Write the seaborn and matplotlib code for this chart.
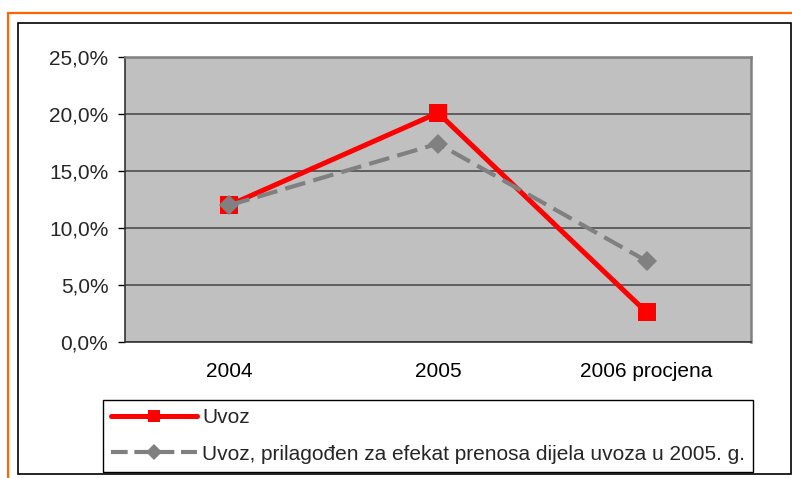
import matplotlib
matplotlib.use("Agg")
import matplotlib.pyplot as plt
import seaborn as sns
import pandas as pd
from matplotlib.patches import Rectangle
from matplotlib.lines import Line2D
from matplotlib.ticker import FixedLocator, FuncFormatter

categories = ["2004", "2005", "2006 procjena"]
uvoz = [12.0, 20.1, 2.6]
uvoz_adj = [12.0, 17.4, 7.1]
series_names = ["Uvoz", "Uvoz, prilagođen za efekat prenosa dijela uvoza u 2005. g."]
y_ticks = [0, 5, 10, 15, 20, 25]

sns.set_theme(style="white")
plt.rcParams['font.family'] = ['Liberation Sans', 'DejaVu Sans']

df = pd.DataFrame({
    "cat": categories * 2,
    "val": uvoz + uvoz_adj,
    "series": [series_names[0]] * 3 + [series_names[1]] * 3,
})

FS = 15
DASH = (0, (5, 2))

fig = plt.figure(figsize=(7.92, 4.78), dpi=100)
W, H = 792, 478
# outer orange frame (partially visible)
fig.add_artist(Line2D([8 / W, 8 / W], [0, 1 - 13 / H], color="#FF6600", lw=1.6, transform=fig.transFigure))
fig.add_artist(Line2D([8 / W, 1], [1 - 13 / H, 1 - 13 / H], color="#FF6600", lw=1.6, transform=fig.transFigure))
# chart area black frame
fig.add_artist(Rectangle((18 / W, 1 - 474 / H), (791 - 18) / W, (474 - 23) / H, fill=False,
                         edgecolor="black", lw=1.2, transform=fig.transFigure))

ax = fig.add_axes([125 / W, 1 - 342 / H, (751 - 125) / W, (342 - 57) / H])
ax.set_facecolor("#C0C0C0")

sub1 = df[df.series == series_names[0]]
sub2 = df[df.series == series_names[1]]
sns.lineplot(data=sub2, x="cat", y="val", ax=ax, color="#808080", lw=3, linestyle=DASH,
             marker="D", markersize=10, markeredgewidth=0, sort=False, zorder=3)
sns.lineplot(data=sub1, x="cat", y="val", ax=ax, color="#FF0000", lw=3.6,
             marker="s", markersize=12.5, markeredgewidth=0, sort=False, zorder=4)
ax.lines[0].set_zorder(5)

ax.set_xlim(-0.5, 2.5)
ax.set_ylim(0, 25)
ax.yaxis.set_major_locator(FixedLocator(y_ticks))
ax.yaxis.set_major_formatter(FuncFormatter(lambda v, p: f"{v:.1f}%".replace(".", ",")))
ax.grid(axis="y", color="#4D4D4D", lw=1.2, zorder=1)
ax.set_axisbelow(True)
ax.set_xlabel("")
ax.set_ylabel("")

ax.set_xticks([0, 1, 2])
ax.set_xticklabels(categories)
ax.set_xticks([-0.5, 0.5, 1.5, 2.5], minor=True)
ax.tick_params(axis="x", which="major", length=0, pad=14.5, labelsize=FS, colors="black")
ax.tick_params(axis="x", which="minor", length=5, width=1, color="black", direction="out")
ax.tick_params(axis="y", length=5, width=1, color="black", direction="out", pad=7, labelsize=FS, left=True)

for side in ["top", "right"]:
    ax.spines[side].set_color("#808080")
    ax.spines[side].set_linewidth(1.8)
for side in ["left", "bottom"]:
    ax.spines[side].set_color("#333333")
    ax.spines[side].set_linewidth(1.2)

if ax.legend_:
    ax.legend_.remove()
handles = [
    Line2D([], [], color="#FF0000", lw=3.6, marker="s", markersize=9, markeredgewidth=0),
    Line2D([], [], color="#808080", lw=3, linestyle=(0, (4, 1.6)), marker="D", markersize=8, markeredgewidth=0),
]
leg = fig.legend(handles, series_names, loc="lower left", bbox_to_anchor=(103 / W, 6 / H),
                 frameon=True, fancybox=False, fontsize=FS, handlelength=4.1, handletextpad=0.25,
                 borderpad=0.4, labelspacing=0.85, edgecolor="black", framealpha=1,
                 borderaxespad=0)
leg.get_frame().set_linewidth(1)

fig.savefig("out.png", dpi=100)
